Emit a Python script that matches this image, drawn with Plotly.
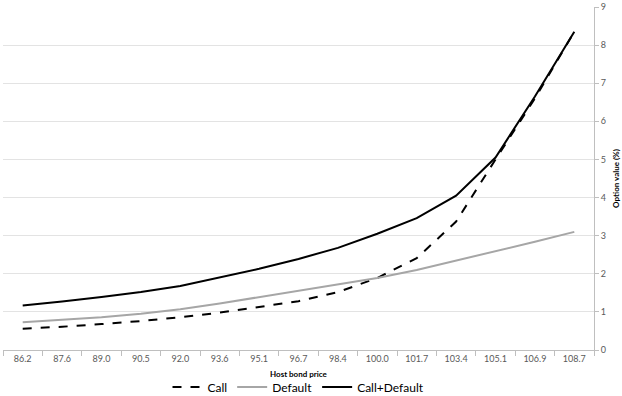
import plotly.graph_objects as go

prices = ["86.2", "87.6", "89.0", "90.5", "92.0", "93.6", "95.1", "96.7",
          "98.4", "100.0", "101.7", "103.4", "105.1", "106.9", "108.7"]
call = [0.56, 0.61, 0.68, 0.76, 0.86, 0.98, 1.13, 1.28, 1.52, 1.89, 2.41, 3.37, 5.00, 6.60, 8.35]
default = [0.73, 0.79, 0.86, 0.95, 1.07, 1.22, 1.39, 1.55, 1.72, 1.89, 2.10, 2.34, 2.58, 2.84, 3.10]
call_default = [1.17, 1.27, 1.39, 1.52, 1.68, 1.91, 2.13, 2.39, 2.68, 3.05, 3.46, 4.05, 5.05, 6.65, 8.35]

FONT = "Lato, 'Open Sans', sans-serif"

fig = go.Figure()
fig.add_trace(go.Scatter(x=prices, y=call, mode="lines", name="Call",
                         line=dict(color="#000000", width=2, dash="dash")))
fig.add_trace(go.Scatter(x=prices, y=default, mode="lines", name="Default",
                         line=dict(color="#a6a6a6", width=2)))
fig.add_trace(go.Scatter(x=prices, y=call_default, mode="lines", name="Call+Default",
                         line=dict(color="#000000", width=2)))

fig.update_layout(
    width=622, height=396,
    margin=dict(l=3, r=28, t=7, b=46, autoexpand=False),
    paper_bgcolor="white", plot_bgcolor="white",
    font=dict(family=FONT, color="#595959", size=9),
    showlegend=True,
    legend=dict(orientation="h", x=0.5, xanchor="center",
                yref="container", y=1 - 387 / 396, yanchor="middle",
                font=dict(size=12, color="#000000"), itemwidth=30,
                bgcolor="rgba(0,0,0,0)"),
    xaxis=dict(type="category", range=[-0.5, 14.5], showgrid=False,
               showline=True, linecolor="#bfbfbf", linewidth=1,
               ticks="outside", tickson="boundaries", ticklen=5, tickcolor="#bfbfbf",
               tickfont=dict(size=9, color="#595959")),
    yaxis=dict(side="right", range=[0, 9], dtick=1, showgrid=True, gridcolor="#e3e3e3",
               gridwidth=1, zeroline=False,
               showline=True, linecolor="#bfbfbf", linewidth=1,
               ticks="outside", ticklen=4, tickcolor="#bfbfbf",
               tickfont=dict(size=9, color="#595959"),
               title=dict(text="<b>Option value (%)</b>", font=dict(size=8, color="#000000"),
                          standoff=8)),
    annotations=[dict(text="<b>Host bond price</b>", xref="paper", yref="paper",
                      x=0.5, y=-(374 - 350.3) / 343.6, xanchor="center", yanchor="middle",
                      showarrow=False, font=dict(size=8, color="#000000", family=FONT))],
)

fig.write_html("out.html")
